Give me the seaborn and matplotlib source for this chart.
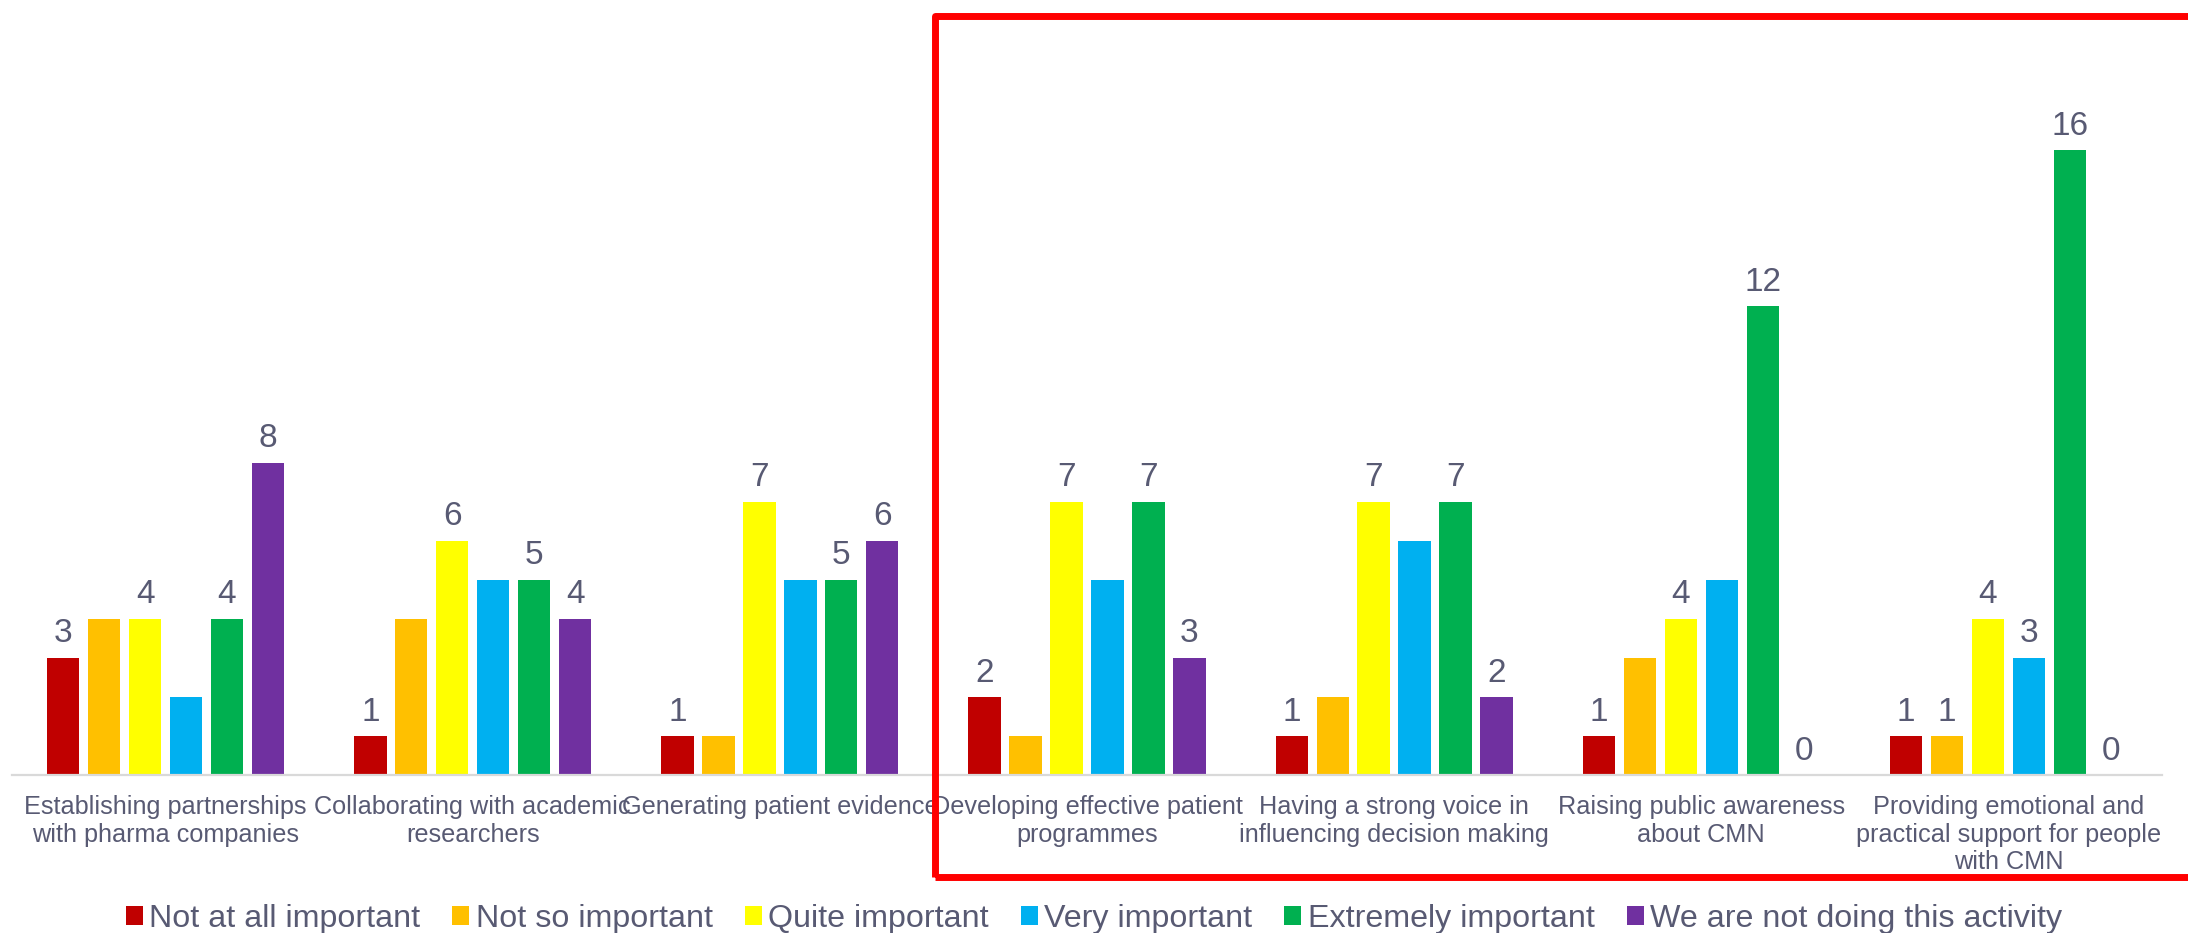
import matplotlib
matplotlib.use("Agg")
import matplotlib.pyplot as plt
from matplotlib.patches import Rectangle
import pandas as pd
import seaborn as sns

# Survey activities (x-axis categories)
activities = [
    "Establishing partnerships\nwith pharma companies",
    "Collaborating with academic\nresearchers",
    "Generating patient evidence",
    "Developing effective patient\nprogrammes",
    "Having a strong voice in\ninfluencing decision making",
    "Raising public awareness\nabout CMN",
    "Providing emotional and\npractical support for people\nwith CMN",
]

# Importance ratings (series)
ratings = [
    "Not at all important",
    "Not so important",
    "Quite important",
    "Very important",
    "Extremely important",
    "We are not doing this activity",
]

# Number of respondents per rating, one list per rating
not_at_all = [3, 1, 1, 2, 1, 1, 1]
not_so = [4, 4, 1, 1, 2, 3, 1]
quite = [4, 6, 7, 7, 7, 4, 4]
very = [2, 5, 5, 5, 6, 5, 3]
extremely = [4, 5, 5, 7, 7, 12, 16]
not_doing = [8, 4, 6, 3, 2, 0, 0]

# Which bars carry a value label
label_not_at_all = [True, True, True, True, True, True, True]
label_not_so = [False, False, False, False, False, False, True]
label_quite = [True, True, True, True, True, True, True]
label_very = [False, False, False, False, False, False, True]
label_extremely = [True, True, True, True, True, True, True]
label_not_doing = [True, True, True, True, True, True, True]

colors = ["#C00000", "#FFC000", "#FFFF00", "#00B0F0", "#00B050", "#7030A0"]
text_color = "#585A73"

series = [not_at_all, not_so, quite, very, extremely, not_doing]
shown = [label_not_at_all, label_not_so, label_quite, label_very,
         label_extremely, label_not_doing]

rows = []
for rating, values in zip(ratings, series):
    for activity, v in zip(activities, values):
        rows.append({"activity": activity, "rating": rating, "count": v})
df = pd.DataFrame(rows)

sns.set_theme(style="white")
plt.rcParams["font.family"] = ["Liberation Sans", "DejaVu Sans"]

W, H = 2188, 933
fig = plt.figure(figsize=(W / 100, H / 100), dpi=100)
ax = fig.add_axes([12 / W, 158 / H, 2150 / W, 775 / H])

sns.barplot(
    data=df, x="activity", y="count", hue="rating",
    order=activities, hue_order=ratings, palette=colors,
    width=0.8, gap=0.21, errorbar=None, saturation=1,
    linewidth=0, ax=ax,
)

ax.set_ylim(0, 19.84)
ax.set_xlim(-0.5, len(activities) - 0.5)
ax.set_xlabel("")
ax.set_ylabel("")
ax.set_yticks([])
for side in ["top", "left", "right"]:
    ax.spines[side].set_visible(False)
ax.spines["bottom"].set_color("#D9D9D9")
ax.spines["bottom"].set_linewidth(1.6)
ax.tick_params(axis="x", length=0, pad=14.5, labelsize=18.2, labelcolor=text_color)
for lbl in ax.get_xticklabels():
    lbl.set_linespacing(1.18)

# Value labels above the selected bars
for container, values, flags in zip(ax.containers, series, shown):
    labels = [str(v) if f else "" for v, f in zip(values, flags)]
    ax.bar_label(container, labels=labels, padding=6, fontsize=24,
                 color=text_color)

handles, labels = ax.get_legend_handles_labels()
ax.get_legend().remove()
fig.legend(
    handles, labels, loc="center", bbox_to_anchor=(0.5, 1 - 919 / H),
    ncol=6, frameon=False, fontsize=23.2, labelcolor=text_color,
    handlelength=0.52, handleheight=0.52, handletextpad=0.2,
    columnspacing=1.0,
)

# Highlight frame around the last four activities
frame = Rectangle(
    (935 / W, 1 - 877 / H), (W + 20 - 935) / W, (877 - 15.5) / H,
    transform=fig.transFigure, fill=False, edgecolor="#FF0000",
    linewidth=5, clip_on=False, joinstyle="round",
)
fig.patches.append(frame)

fig.savefig("out.png", dpi=100)
